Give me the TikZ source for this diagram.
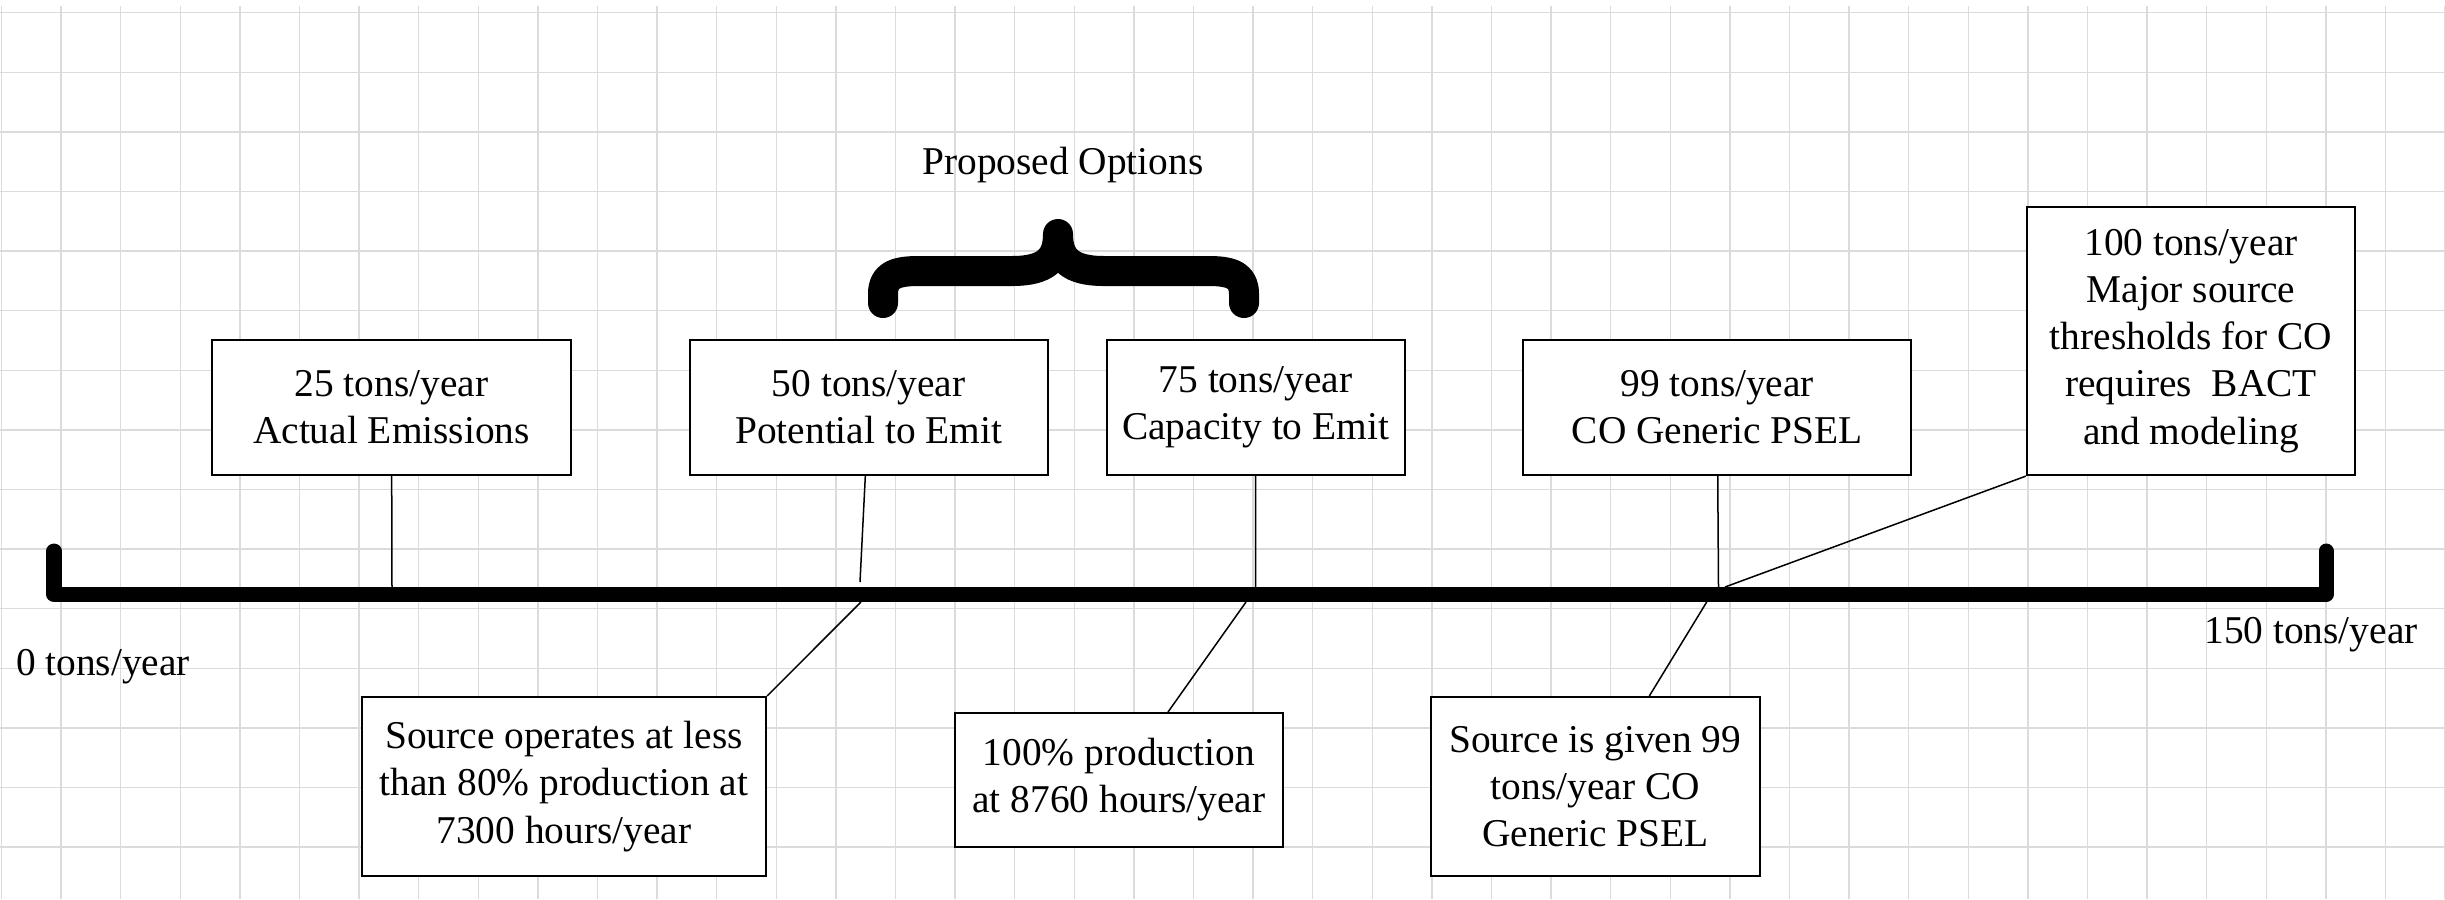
\documentclass[tikz,border=0pt]{standalone}
\usepackage{fontspec}
\setmainfont{Liberation Serif}

\begin{document}
\begin{tikzpicture}[x=0.01cm,y=-0.01cm,
	gridline/.style={draw=black!14,line width=0.015cm},
	box/.style={draw=black,line width=0.02cm,fill=white,align=center,inner sep=0pt,font=\fontsize{11.2}{13.4}\selectfont},
	lbl/.style={align=center,inner sep=0pt,font=\fontsize{11.2}{13.4}\selectfont},
	tie/.style={draw=black,line width=0.015cm},
	axisline/.style={line width=0.15cm,line cap=round,line join=round},
	bracestroke/.style={line width=0.3cm,line cap=round,line join=round}]
	\useasboundingbox (0,0) rectangle (2445,899);
	\fill[white] (0,0) rectangle (2445,899);
	\foreach \gx in {0,...,41}
		\draw[gridline] (1.5+59.6*\gx,6) -- (1.5+59.6*\gx,899);
	\foreach \gy in {0,...,14}
		\draw[gridline] (0,12.7+59.6*\gy) -- (2445,12.7+59.6*\gy);

	\coordinate (a0) at (54,594.5);
	\coordinate (a150) at (2326,594.5);
	\draw[axisline] (54,551) -- (a0) -- (a150) -- (2326,551);

	\node[lbl] (lopt) at (1063,165) {Proposed Options};
	\draw[bracestroke] (883,303) -- (883,294) .. controls (883,277) and (893,271) .. (918,271) -- (1012,271) .. controls (1046,271) and (1058,259) .. (1058,234) .. controls (1058,259) and (1070,271) .. (1104,271) -- (1209,271) .. controls (1234,271) and (1244,277) .. (1244,294) -- (1244,303);

	\node[box,minimum width=3.59cm,minimum height=1.35cm] (b25) at (391.5,407.5) {25 tons/year\\Actual Emissions};
	\node[box,minimum width=3.575cm,minimum height=1.35cm] (b50) at (868.75,407.5) {50 tons/year\\Potential to Emit};
	\node[box,minimum width=2.98cm,minimum height=1.35cm] (b75) at (1255.6,407.5) {75 tons/year\\Capacity to Emit};
	\node[box,minimum width=3.875cm,minimum height=1.35cm] (b99) at (1717.25,407.5) {99 tons/year\\CO Generic PSEL};
	\node[box,minimum width=3.28cm,minimum height=2.68cm] (b100) at (2191,341) {100 tons/year\\Major source\\thresholds for CO\\requires\ \ BACT\\and modeling};

	\node[box,minimum width=4.04cm,minimum height=1.79cm] (s80) at (564,786.5) {Source operates at less\\than 80\% production at\\7300 hours/year};
	\node[box,minimum width=3.28cm,minimum height=1.34cm] (s100) at (1119,780) {100\% production\\at 8760 hours/year};
	\node[box,minimum width=3.286cm,minimum height=1.79cm] (s99) at (1595.3,786.5) {Source is given 99\\tons/year CO\\Generic PSEL};

	\node[lbl] (l0) at (103,667) {0 tons/year};
	\node[lbl] (l150) at (2311,635) {150 tons/year};

	\coordinate (t25) at (392,587);
	\coordinate (t50) at (860,582);
	\coordinate (t75) at (1255.7,587);
	\coordinate (t99) at (1718.5,587);
	\coordinate (t100) at (1725,587);
	\coordinate (u80) at (861,602);
	\coordinate (u100) at (1246,602);
	\coordinate (u99) at (1706.7,602);

	\draw[tie] (b25) -- (t25);
	\draw[tie] (b50) -- (t50);
	\draw[tie] (b75) -- (t75);
	\draw[tie] (b99) -- (t99);
	\draw[tie] (b100.south west) -- (t100);
	\draw[tie] (s80.north east) -- (u80);
	\draw[tie] ([xshift=0.49cm]s100.north) -- (u100);
	\draw[tie] ([xshift=0.54cm]s99.north) -- (u99);
\end{tikzpicture}
\end{document}
